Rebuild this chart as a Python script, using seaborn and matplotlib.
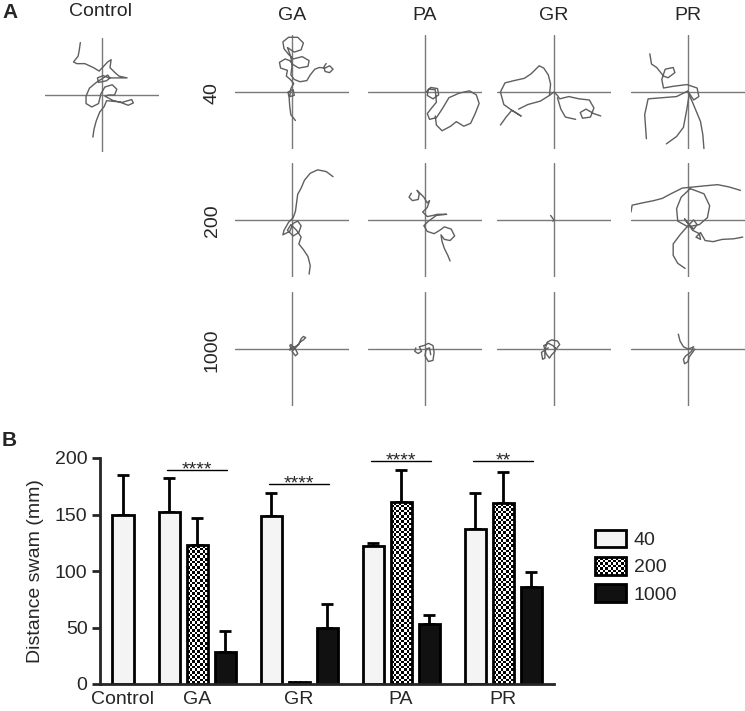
import numpy as np
import pandas as pd
import matplotlib
matplotlib.use("Agg")
import matplotlib.pyplot as plt
import seaborn as sns
from matplotlib.patches import Patch, Rectangle
from matplotlib.legend_handler import HandlerBase

sns.set_style("ticks")
plt.rcParams['font.family'] = ['Liberation Sans', 'DejaVu Sans']

# ---------------- data: panel B ----------------
groups = ["Control", "GA", "GR", "PA", "PR"]
doses = ["40", "200", "1000"]
mean_40 = [150, 152, 149, 122, 137]
mean_200 = [np.nan, 123, 2, 161, 160]
mean_1000 = [np.nan, 28, 50, 53, 86]
err_40 = [35, 30, 20, 3, 32]
err_200 = [np.nan, 24, 0, 28, 28]
err_1000 = [np.nan, 19, 21, 8, 13]
sig_groups = ["GA", "GR", "PA", "PR"]
sig_labels = ["****", "****", "****", "**"]
sig_heights = [189, 177, 197, 197]
y_ticks = [0, 50, 100, 150, 200]

# ---------------- data: panel A ----------------
col_titles = ["GA", "PA", "GR", "PR"]
row_labels = ["40", "200", "1000"]

trace_control = [[(-0.38, 0.92), (-0.40, 0.78), (-0.42, 0.68), (-0.50, 0.58), (-0.44, 0.55), (-0.30, 0.55),
                  (-0.15, 0.48), (-0.05, 0.42), (0.10, 0.58), (0.16, 0.62), (0.14, 0.48), (0.22, 0.40),
                  (0.30, 0.33), (0.44, 0.30), (0.30, 0.30), (0.12, 0.30), (0.02, 0.34), (-0.08, 0.30),
                  (-0.06, 0.22), (0.08, 0.25), (0.14, 0.30), (0.10, 0.35), (-0.10, 0.22), (-0.22, 0.12),
                  (-0.28, -0.02), (-0.28, -0.15), (-0.18, -0.21), (-0.06, -0.15), (-0.02, 0.02), (0.05, 0.14),
                  (0.18, 0.18), (0.26, 0.10), (0.22, 0.0), (0.12, 0.0), (0.05, -0.02), (0.20, -0.10),
                  (0.35, -0.13), (0.52, -0.08), (0.55, -0.14), (0.46, -0.18), (0.30, -0.12), (0.08, -0.10),
                  (0.04, -0.20), (-0.04, -0.30), (-0.10, -0.45), (-0.14, -0.60), (-0.16, -0.74)]]

trace_ga_40 = [[(0.06, -0.50), (-0.02, -0.40), (-0.04, -0.25), (-0.05, -0.10), (-0.07, 0.0), (0.02, 0.04),
                (0.04, -0.06), (-0.04, -0.08), (-0.02, 0.06), (0.03, 0.15), (-0.03, 0.22), (-0.10, 0.28),
                (-0.08, 0.38), (-0.20, 0.42), (-0.22, 0.52), (-0.12, 0.58), (-0.04, 0.55), (0.02, 0.48),
                (0.12, 0.42), (0.28, 0.45), (0.30, 0.55), (0.18, 0.62), (0.02, 0.58), (-0.06, 0.66),
                (-0.14, 0.76), (-0.16, 0.88), (-0.06, 0.96), (0.10, 0.96), (0.20, 0.86), (0.16, 0.74),
                (0.04, 0.70), (-0.08, 0.78), (-0.02, 0.62), (0.00, 0.45), (-0.02, 0.30), (0.04, 0.22),
                (0.14, 0.18), (0.26, 0.20), (0.32, 0.30), (0.40, 0.40), (0.48, 0.43), (0.58, 0.42),
                (0.66, 0.46), (0.72, 0.40), (0.66, 0.34), (0.58, 0.36), (0.56, 0.44), (0.60, 0.50)]]

trace_pa_40 = [[(0.02, 0.0), (0.10, 0.08), (0.22, 0.06), (0.24, -0.05), (0.14, -0.12), (0.04, -0.06),
                (0.06, 0.05), (0.18, 0.04), (0.20, -0.18), (0.10, -0.30), (0.04, -0.38), (0.08, -0.48),
                (0.20, -0.45), (0.30, -0.30), (0.42, -0.10), (0.60, -0.02), (0.78, 0.02), (0.90, -0.05),
                (0.95, -0.20), (0.88, -0.38), (0.80, -0.55), (0.68, -0.60), (0.55, -0.52), (0.45, -0.60),
                (0.30, -0.68), (0.20, -0.58), (0.18, -0.42)]]

trace_gr_40 = [[(-0.94, -0.58), (-0.84, -0.44), (-0.74, -0.32), (-0.58, -0.42), (-0.74, -0.32),
                (-0.88, -0.22), (-0.94, 0.0), (-0.86, 0.16), (-0.70, 0.20), (-0.52, 0.24), (-0.40, 0.32),
                (-0.26, 0.46), (-0.18, 0.42), (-0.10, 0.30), (-0.06, 0.14), (-0.08, -0.06), (-0.24, -0.16),
                (-0.46, -0.22), (-0.62, -0.30)],
               [(-0.08, -0.06), (0.0, 0.0), (0.06, -0.06), (0.10, -0.12), (0.26, -0.08), (0.44, -0.12),
                (0.62, -0.14), (0.70, -0.28), (0.64, -0.44), (0.50, -0.46), (0.46, -0.36), (0.56, -0.30),
                (0.70, -0.38), (0.82, -0.42)],
               [(0.06, -0.10), (0.12, -0.30), (0.20, -0.44), (0.38, -0.48)]]

trace_pr_40 = [[(-0.67, 0.67), (-0.64, 0.49), (-0.55, 0.43), (-0.43, 0.28), (-0.35, 0.25), (-0.23, 0.34),
                (-0.26, 0.43), (-0.40, 0.40), (-0.46, 0.22), (-0.43, 0.07), (-0.26, 0.10), (-0.02, 0.13),
                (0.16, 0.07), (0.19, -0.08), (0.10, -0.14), (0.02, -0.02)],
               [(-0.38, -0.91), (-0.20, -0.78), (-0.08, -0.62), (-0.02, -0.30), (0.02, -0.05), (0.00, 0.02),
                (-0.20, -0.08), (-0.45, -0.10), (-0.70, -0.12), (-0.76, -0.40), (-0.73, -0.82)],
               [(0.0, 0.0), (0.10, -0.23), (0.22, -0.52), (0.26, -0.75), (0.28, -1.0)]]

trace_ga_200 = [[(0.72, 0.76), (0.60, 0.85), (0.45, 0.88), (0.32, 0.82), (0.22, 0.70), (0.16, 0.56),
                 (0.10, 0.45), (0.08, 0.30), (0.06, 0.15), (0.02, 0.04), (-0.06, -0.04), (-0.14, -0.18),
                 (-0.16, -0.26), (-0.04, -0.20), (0.02, -0.06), (0.10, -0.02), (0.16, -0.10), (0.12, -0.22),
                 (0.02, -0.28), (-0.08, -0.18), (-0.02, -0.08), (0.08, -0.18), (0.16, -0.30), (0.12, -0.42),
                 (0.20, -0.52), (0.28, -0.64), (0.32, -0.80), (0.30, -0.95)]]

trace_pa_200 = [[(-0.24, 0.47), (-0.28, 0.40), (-0.22, 0.34), (-0.12, 0.36), (-0.10, 0.46), (-0.14, 0.52),
                 (-0.02, 0.40), (0.04, 0.30), (0.08, 0.34), (0.04, 0.22), (-0.04, 0.14), (0.04, 0.06),
                 (0.14, 0.08), (0.22, 0.10), (0.38, 0.10), (0.20, 0.08), (0.06, -0.02), (-0.02, -0.10),
                 (0.04, -0.20), (0.16, -0.24), (0.26, -0.18), (0.34, -0.12), (0.46, -0.16), (0.52, -0.28),
                 (0.44, -0.36), (0.34, -0.34), (0.28, -0.26), (0.30, -0.38), (0.34, -0.50), (0.40, -0.62),
                 (0.44, -0.72)]]

trace_gr_200 = [[(-0.06, 0.08), (0.0, 0.0), (-0.02, -0.02)]]

trace_pr_200 = [[(-1.0, 0.14), (-0.98, 0.26), (-0.80, 0.30), (-0.60, 0.34), (-0.45, 0.38), (-0.30, 0.46),
                 (-0.10, 0.56), (0.10, 0.58), (0.30, 0.60), (0.52, 0.62), (0.72, 0.58), (0.92, 0.52)],
                [(0.04, 0.55), (0.28, 0.46), (0.38, 0.25), (0.34, 0.04), (0.20, -0.08), (0.00, -0.12),
                 (-0.18, -0.02), (-0.20, 0.20), (-0.12, 0.40), (0.04, 0.55)],
                [(-0.05, -0.85), (-0.18, -0.76), (-0.26, -0.62), (-0.26, -0.42), (-0.14, -0.26), (0.00, -0.10),
                 (0.10, 0.00), (0.16, -0.08), (0.10, -0.16), (0.02, -0.08), (-0.06, 0.02), (0.08, -0.18),
                 (0.20, -0.24), (0.22, -0.34), (0.14, -0.30), (0.22, -0.22), (0.30, -0.36), (0.44, -0.38),
                 (0.60, -0.34), (0.80, -0.33), (0.96, -0.30)]]

trace_ga_1000 = [[(0.0, 0.0), (-0.04, 0.06), (-0.02, 0.08), (0.06, 0.0), (0.10, -0.08), (0.06, -0.12),
                  (0.0, -0.04), (0.08, 0.04), (0.14, 0.12), (0.20, 0.16), (0.24, 0.20), (0.20, 0.22),
                  (0.16, 0.18), (0.12, 0.08), (0.02, 0.02), (-0.04, -0.02), (-0.02, 0.04)]]

trace_pa_1000 = [[(-0.16, 0.02), (-0.18, -0.04), (-0.12, -0.08), (-0.06, -0.04), (-0.10, 0.04), (-0.02, 0.06),
                  (0.06, 0.10), (0.14, 0.06), (0.16, -0.06), (0.14, -0.20), (0.06, -0.22), (0.00, -0.12),
                  (0.02, 0.0), (0.08, 0.02), (0.10, -0.10)]]

trace_gr_1000 = [[(-0.10, 0.02), (-0.22, -0.06), (-0.20, -0.18), (-0.16, -0.16), (-0.16, -0.02), (-0.12, 0.12),
                  (-0.04, 0.16), (0.06, 0.14), (0.10, 0.08), (0.04, 0.0), (-0.02, 0.06), (-0.10, 0.10),
                  (-0.18, 0.06), (-0.14, -0.08), (-0.08, -0.16), (-0.04, -0.10), (0.02, -0.04), (0.02, 0.02)]]

trace_pr_1000 = [[(-0.17, 0.26), (-0.14, 0.14), (-0.08, 0.04), (0.0, 0.0), (0.06, 0.02), (0.10, 0.04),
                  (0.06, -0.04), (0.02, -0.08), (-0.04, -0.12), (-0.08, -0.18), (-0.06, -0.26), (0.0, -0.22),
                  (0.02, -0.14), (0.08, -0.06), (0.12, 0.0)]]

grid_traces = [[trace_ga_40, trace_pa_40, trace_gr_40, trace_pr_40],
               [trace_ga_200, trace_pa_200, trace_gr_200, trace_pr_200],
               [trace_ga_1000, trace_pa_1000, trace_gr_1000, trace_pr_1000]]

# ---------------- figure ----------------
W, H = 745, 711
fig = plt.figure(figsize=(W / 100, H / 100), dpi=100)
cross_c = "#7a7a7a"
trace_c = "#5f5f5f"
half = 57


def cell(cx, cy, segments):
    ax = fig.add_axes([(cx - half) / W, 1 - (cy + half) / H, 2 * half / W, 2 * half / H])
    ax.set_xlim(-1, 1)
    ax.set_ylim(-1, 1)
    ax.axis("off")
    ax.axhline(0, color=cross_c, lw=1.0)
    ax.axvline(0, color=cross_c, lw=1.0)
    for seg in segments:
        xs = [p[0] for p in seg]
        ys = [p[1] for p in seg]
        ax.plot(xs, ys, color=trace_c, lw=1.0, solid_joinstyle="round", solid_capstyle="round")
    return ax


cell(102, 95, trace_control)
col_x = [292, 425, 554, 688]
row_y = [92, 220, 349]
for r, ry in enumerate(row_y):
    for c, cx in enumerate(col_x):
        cell(cx, ry, grid_traces[r][c])

fig.text(100 / W, 1 - 12 / H, "Control", ha="center", va="center", fontsize=14)
for c, t in enumerate(col_titles):
    fig.text(col_x[c] / W, 1 - 15 / H, t, ha="center", va="center", fontsize=14)
for r, t in enumerate(row_labels):
    fig.text(212 / W, 1 - (row_y[r] + 1) / H, t, ha="center", va="center", rotation=90, fontsize=14)
fig.text(2 / W, 1 - 12 / H, "A", ha="left", va="center", fontsize=15, fontweight="bold")
fig.text(2 / W, 1 - 441 / H, "B", ha="left", va="center", fontsize=15, fontweight="bold")

# ---------------- panel B ----------------
step, gap = 28, 46
means = {"40": mean_40, "200": mean_200, "1000": mean_1000}
errs = {"40": err_40, "200": err_200, "1000": err_1000}
rows = []
pos = {}
x = 123
for gi, g in enumerate(groups):
    present = [d for d in doses if not np.isnan(means[d][gi])]
    if gi > 0:
        x += gap
    for di, d in enumerate(present):
        if di > 0:
            x += step
        pos[(g, d)] = x
        rows.append({"group": g, "dose": d, "pos": x, "val": means[d][gi], "err": errs[d][gi]})
df = pd.DataFrame(rows)

axB_box = [100 / W, 1 - 684 / H, 454 / W, 226 / H]
axB = fig.add_axes(axB_box)
face = {"40": "#f4f4f4", "200": "#ffffff", "1000": "#111111"}
sns.barplot(data=df, x="pos", y="val", hue="dose", hue_order=doses, native_scale=True, dodge=False,
            width=0.75, errorbar=None, palette=face, saturation=1, legend=False, ax=axB)

xlim = (100, 554)
ylim = (0, 200)
px_per_y = 226 / (ylim[1] - ylim[0])
cell_px = 2.6
for cont, d in zip(axB.containers, doses):
    for p in cont:
        p.set_edgecolor("black")
        p.set_linewidth(2.0)
        p.set_zorder(2)
        if d == "200":
            p.set_facecolor("none")
            x0, y0, w, h = p.get_x(), p.get_y(), p.get_width(), p.get_height()
            nx = max(1, int(round(w / cell_px)))
            ny = max(1, int(round(h * px_per_y / cell_px)))
            checker = np.add.outer(np.arange(ny), np.arange(nx)) % 2
            axB.imshow(checker, extent=[x0, x0 + w, y0, y0 + h], cmap="gray", vmin=0, vmax=1,
                       interpolation="nearest", aspect="auto", origin="lower", zorder=1.5)

axB.errorbar(df["pos"], df["val"], yerr=[np.zeros(len(df)), df["err"]], fmt="none", ecolor="black",
             elinewidth=2.0, capsize=4.5, capthick=2.0, zorder=1)

for g, lab, h in zip(sig_groups, sig_labels, sig_heights):
    x0 = pos[(g, "40")] - 2
    x1 = pos[(g, "1000")] + 2
    axB.plot([x0, x1], [h, h], color="black", lw=1.0, clip_on=False)
    axB.annotate(lab, xy=((x0 + x1) / 2, h), xytext=(0, -3), textcoords="offset points",
                 ha="center", va="baseline", fontsize=14, annotation_clip=False)

axB.set_xlim(*xlim)
axB.set_ylim(*ylim)
axB.set_aspect("auto")
axB.set_position(axB_box)
axB.set_yticks(y_ticks)
axB.set_yticklabels([str(v) for v in y_ticks])
label_pos = [pos[("Control", "40")]] + [pos[(g, "200")] for g in groups[1:]]
axB.set_xticks(label_pos)
axB.set_xticklabels(groups)
axB.set_xlabel("")
axB.set_ylabel("Distance swam (mm)", fontsize=14, labelpad=8)
sns.despine(ax=axB)
for s in ["left", "bottom"]:
    axB.spines[s].set_linewidth(2.0)
axB.tick_params(axis="y", length=6, width=2.0, labelsize=14, direction="out", pad=3)
axB.tick_params(axis="x", length=0, labelsize=14, pad=5)


class CheckerHandler(HandlerBase):
    def create_artists(self, legend, orig_handle, xdescent, ydescent, width, height, fontsize, trans):
        arts = [Rectangle((-xdescent, -ydescent), width, height, facecolor="white", edgecolor="none",
                          transform=trans)]
        c = 1.9
        nx = max(1, int(round(width / c)))
        ny = max(1, int(round(height / c)))
        cw, ch = width / nx, height / ny
        for i in range(ny):
            for j in range(nx):
                if (i + j) % 2 == 0:
                    arts.append(Rectangle((-xdescent + j * cw, -ydescent + i * ch), cw, ch,
                                          facecolor="black", edgecolor="none", transform=trans))
        arts.append(Rectangle((-xdescent, -ydescent), width, height, facecolor="none", edgecolor="black",
                              linewidth=2.0, transform=trans))
        return arts


handles = [Patch(facecolor=face[d], edgecolor="black", linewidth=2.0) for d in doses]
fig.legend(handles, doses, loc="upper left", bbox_to_anchor=(595 / W, 1 - 530 / H), frameon=False,
           fontsize=14, handlelength=1.6, handleheight=1.0, handletextpad=0.4, labelspacing=0.4,
           borderpad=0, borderaxespad=0, handler_map={handles[1]: CheckerHandler()})

fig.savefig("out.png", dpi=100)
